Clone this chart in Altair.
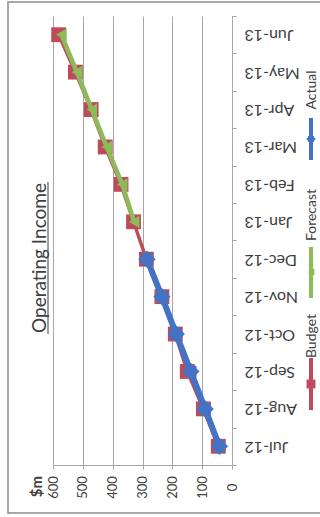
import altair as alt
import pandas as pd

# ---------------- data ----------------
months = ["Jul-12", "Aug-12", "Sep-12", "Oct-12", "Nov-12", "Dec-12",
          "Jan-13", "Feb-13", "Mar-13", "Apr-13", "May-13", "Jun-13"]
budget = [46, 96, 150, 190, 235, 287, 330, 372, 425, 472, 525, 581]
actual_months = ["Jul-12", "Aug-12", "Sep-12", "Oct-12", "Nov-12", "Dec-12"]
actual = [42, 90, 138, 187, 235, 285]
forecast_months = ["Jan-13", "Feb-13", "Mar-13", "Apr-13", "May-13", "Jun-13"]
forecast = [328, 368, 420, 470, 520, 572]
value_ticks = [0, 100, 200, 300, 400, 500, 600]
series_names = ["Budget", "Forecast", "Actual"]
title_text = "Operating Income"
unit_text = "$m"

# ---------------- styling ----------------
RED, GREEN, BLUE = "#BF4B5A", "#8DBB5A", "#4472C4"
GRID = "#A6A6A6"
TXT = "#404040"
FONT = "Lato"
W, H = 179, 449

budget_df = pd.DataFrame({"month": months, "value": budget, "idx": list(range(len(months)))})
actual_df = pd.DataFrame({"month": actual_months, "value": actual, "idx": list(range(len(actual_months)))})
forecast_df = pd.DataFrame({"month": forecast_months, "value": forecast, "idx": list(range(len(forecast_months)))})

xscale = alt.Scale(domain=[0, 600], reverse=True, nice=False, zero=True)
yscale = alt.Scale(type="band", domain=months[::-1], paddingInner=0, paddingOuter=0)

x_enc = alt.X(
    "value:Q", scale=xscale,
    axis=alt.Axis(
        values=value_ticks, grid=True, gridColor=GRID, gridWidth=1,
        domainColor=GRID, tickColor=GRID, tickSize=4,
        labelAngle=270, labelAlign="center", labelBaseline="middle",
        labelPadding=18, labelFlush=False, labelOverlap=False,
        labelFont=FONT, labelFontSize=13, labelColor=TXT,
        title=unit_text, titleAngle=270, titleX=-17, titleY=21,
        titleAlign="center", titleBaseline="middle",
        titleFont=FONT, titleFontSize=15, titleFontWeight="bold", titleColor=TXT,
    ),
)
y_enc = alt.Y(
    "month:N", scale=yscale, bandPosition=0.5,
    axis=alt.Axis(
        orient="right", grid=False, tickBand="extent",
        domainColor=GRID, tickColor=GRID, tickSize=4,
        labelAngle=180, labelAlign="right", labelBaseline="middle",
        labelPadding=8, labelOverlap=False,
        labelFont=FONT, labelFontSize=16, labelColor=TXT, title=None,
    ),
)
order_enc = alt.Order("idx:Q")


def series_layers(df, color, width, shapes):
    line = alt.Chart(df).mark_line(color=color, strokeWidth=width).encode(x=x_enc, y=y_enc, order=order_enc)
    pts = [
        alt.Chart(df).mark_point(shape=s, size=sz, filled=True, color=color, opacity=1).encode(x=x_enc, y=y_enc)
        for s, sz in shapes
    ]
    return [line] + pts


layers = []
layers += series_layers(budget_df, RED, 3.5, [("square", 220)])
layers += series_layers(forecast_df, GREEN, 4.5, [("triangle-left", 150)])
layers += series_layers(actual_df, BLUE, 6, [("diamond", 300), ("square", 130)])

one = pd.DataFrame({"k": [0]})

# outer frame
frame = alt.Chart(one).mark_rect(fill=None, stroke="#8C8C8C", strokeWidth=1.5).encode(
    x=alt.value(-45), x2=alt.value(290), y=alt.value(-14), y2=alt.value(497))

# title (rotated) + underline
title = alt.Chart(pd.DataFrame({"t": [title_text]})).mark_text(
    angle=270, align="center", baseline="middle", font=FONT, fontSize=19, color=TXT
).encode(text="t:N", x=alt.value(-13), y=alt.value(242))
underline = alt.Chart(one).mark_rule(color=TXT, strokeWidth=1).encode(
    x=alt.value(-5), y=alt.value(166), y2=alt.value(318))

# manual rotated legend
legend_layers = []
legend_pos = {"Actual": (74, 102, 144, 123), "Forecast": (199, 231, 282, 256), "Budget": (320, 342, 394, 368)}
legend_style = {"Budget": (RED, [("square", 80)]), "Forecast": (GREEN, [("triangle-left", 60)]),
                "Actual": (BLUE, [("diamond", 90), ("square", 35)])}
for name in series_names:
    ty, y1, y2, my = legend_pos[name]
    col, shp = legend_style[name]
    legend_layers.append(
        alt.Chart(pd.DataFrame({"t": [name]})).mark_text(
            angle=270, align="center", baseline="middle", font=FONT, fontSize=14, color=TXT
        ).encode(text="t:N", x=alt.value(259), y=alt.value(ty)))
    legend_layers.append(
        alt.Chart(one).mark_rule(color=col, strokeWidth=4).encode(
            x=alt.value(258), y=alt.value(y1), y2=alt.value(y2)))
    for s, sz in shp:
        legend_layers.append(
            alt.Chart(one).mark_point(shape=s, size=sz, filled=True, color=col, opacity=1).encode(
                x=alt.value(258), y=alt.value(my)))

chart = alt.layer(frame, *layers, title, underline, *legend_layers).properties(
    width=W, height=H,
    autosize=alt.AutoSizeParams(type="none"),
    padding={"left": 53, "top": 16, "right": 88, "bottom": 52},
    background="white",
).configure_view(stroke=None)

chart.save("out.html", embed_options={"renderer": "svg", "actions": False})
